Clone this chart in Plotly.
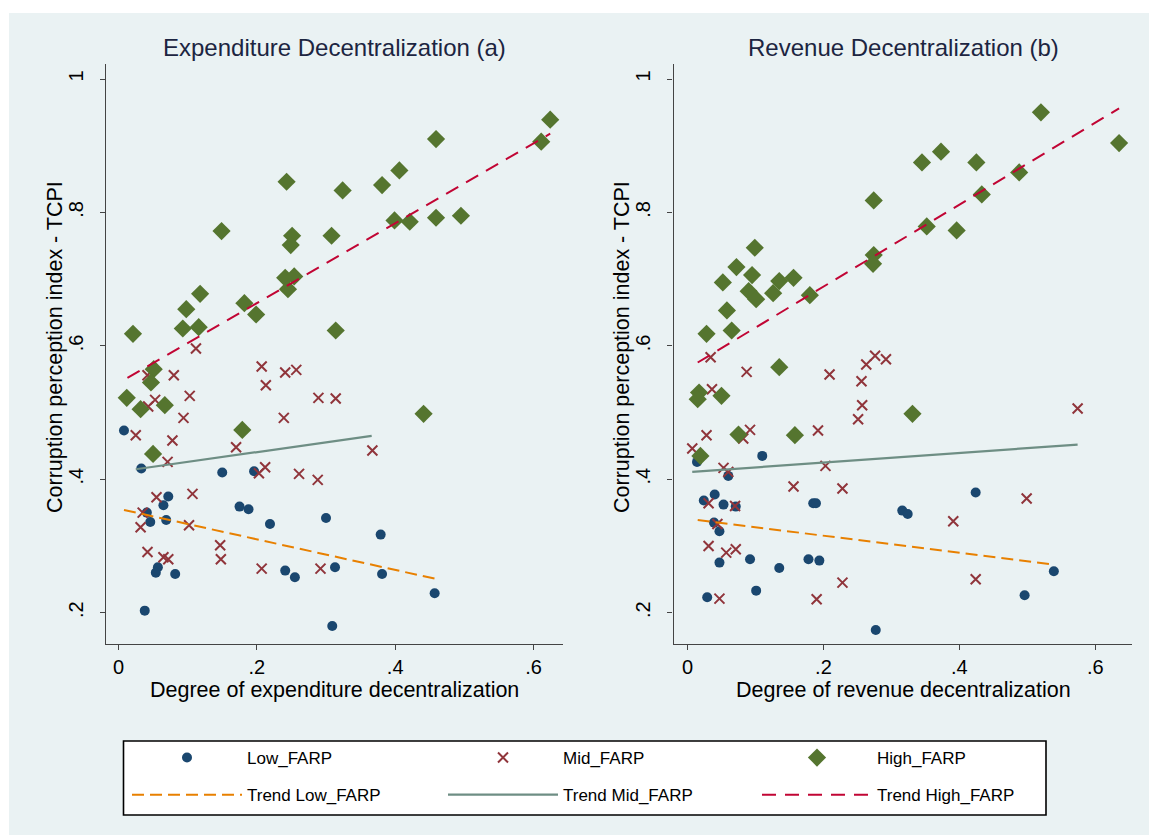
import plotly.graph_objects as go

# ---------------- Data: Expenditure decentralization (a) ----------------
exp_low_x = [0.008, 0.033, 0.150, 0.196, 0.072, 0.065, 0.041, 0.046, 0.069, 0.175, 0.188, 0.219,
             0.300, 0.379, 0.057, 0.054, 0.082, 0.241, 0.255, 0.313, 0.381, 0.457, 0.038, 0.309]
exp_low_y = [0.473, 0.416, 0.410, 0.412, 0.374, 0.361, 0.350, 0.336, 0.339, 0.359, 0.355, 0.333,
             0.342, 0.317, 0.268, 0.260, 0.258, 0.263, 0.253, 0.268, 0.258, 0.229, 0.203, 0.180]

exp_mid_x = [0.112, 0.042, 0.080, 0.207, 0.241, 0.257, 0.213, 0.103, 0.053, 0.043, 0.094, 0.239,
             0.289, 0.314, 0.025, 0.078, 0.170, 0.367, 0.071, 0.203, 0.212, 0.261, 0.288, 0.055,
             0.107, 0.035, 0.032, 0.102, 0.147, 0.148, 0.042, 0.065, 0.072, 0.207, 0.292]
exp_mid_y = [0.596, 0.556, 0.556, 0.569, 0.560, 0.564, 0.541, 0.525, 0.519, 0.509, 0.492, 0.492,
             0.522, 0.521, 0.466, 0.458, 0.448, 0.443, 0.426, 0.409, 0.418, 0.408, 0.399, 0.373,
             0.378, 0.350, 0.328, 0.331, 0.301, 0.280, 0.291, 0.283, 0.280, 0.266, 0.266]

exp_high_x = [0.021, 0.093, 0.116, 0.098, 0.118, 0.149, 0.182, 0.199, 0.243, 0.251, 0.249, 0.241,
              0.254, 0.245, 0.308, 0.314, 0.324, 0.381, 0.406, 0.399, 0.421, 0.459, 0.459, 0.495,
              0.611, 0.624, 0.051, 0.047, 0.012, 0.032, 0.067, 0.179, 0.050, 0.441]
exp_high_y = [0.618, 0.626, 0.628, 0.655, 0.678, 0.772, 0.664, 0.647, 0.846, 0.765, 0.751, 0.702,
              0.704, 0.685, 0.765, 0.623, 0.833, 0.841, 0.863, 0.788, 0.786, 0.910, 0.792, 0.795,
              0.906, 0.939, 0.565, 0.545, 0.522, 0.505, 0.511, 0.474, 0.438, 0.498]

exp_trend_low_x = [0.008, 0.457]
exp_trend_low_y = [0.354, 0.251]
exp_trend_mid_x = [0.025, 0.366]
exp_trend_mid_y = [0.415, 0.465]
exp_trend_high_x = [0.013, 0.624]
exp_trend_high_y = [0.552, 0.918]

# ---------------- Data: Revenue decentralization (b) ----------------
rev_low_x = [0.014, 0.110, 0.060, 0.024, 0.040, 0.053, 0.071, 0.185, 0.189, 0.316, 0.324, 0.424,
             0.039, 0.047, 0.047, 0.092, 0.135, 0.178, 0.194, 0.539, 0.029, 0.101, 0.496, 0.277]
rev_low_y = [0.426, 0.435, 0.405, 0.368, 0.377, 0.362, 0.359, 0.364, 0.364, 0.353, 0.348, 0.380,
             0.335, 0.322, 0.275, 0.280, 0.267, 0.280, 0.278, 0.262, 0.223, 0.233, 0.226, 0.174]

rev_mid_x = [0.034, 0.087, 0.209, 0.256, 0.263, 0.276, 0.292, 0.036, 0.257, 0.251, 0.574, 0.028,
             0.092, 0.082, 0.192, 0.007, 0.053, 0.060, 0.203, 0.156, 0.228, 0.031, 0.070, 0.499,
             0.044, 0.391, 0.031, 0.057, 0.071, 0.228, 0.424, 0.047, 0.190]
rev_mid_y = [0.583, 0.561, 0.557, 0.547, 0.572, 0.585, 0.580, 0.535, 0.511, 0.490, 0.506, 0.466,
             0.474, 0.461, 0.473, 0.446, 0.417, 0.411, 0.420, 0.389, 0.386, 0.364, 0.360, 0.371,
             0.333, 0.337, 0.300, 0.290, 0.295, 0.245, 0.250, 0.221, 0.220]

rev_high_x = [0.028, 0.065, 0.058, 0.052, 0.072, 0.099, 0.095, 0.090, 0.101, 0.126, 0.135, 0.156,
              0.180, 0.274, 0.274, 0.273, 0.345, 0.373, 0.352, 0.396, 0.425, 0.433, 0.488, 0.520,
              0.635, 0.135, 0.017, 0.015, 0.050, 0.331, 0.075, 0.158, 0.019]
rev_high_y = [0.618, 0.623, 0.653, 0.695, 0.718, 0.747, 0.706, 0.682, 0.670, 0.679, 0.697, 0.702,
              0.676, 0.818, 0.736, 0.723, 0.875, 0.891, 0.779, 0.773, 0.875, 0.827, 0.860, 0.950,
              0.904, 0.568, 0.530, 0.520, 0.525, 0.498, 0.467, 0.466, 0.435]

rev_trend_low_x = [0.015, 0.539]
rev_trend_low_y = [0.339, 0.272]
rev_trend_mid_x = [0.007, 0.574]
rev_trend_mid_y = [0.411, 0.452]
rev_trend_high_x = [0.015, 0.635]
rev_trend_high_y = [0.575, 0.956]

names = ["Low_FARP", "Mid_FARP", "High_FARP", "Trend Low_FARP", "Trend Mid_FARP", "Trend High_FARP"]

y_tickvals = [0.2, 0.4, 0.6, 0.8, 1.0]
y_ticktext = [".2", ".4", ".6", ".8", "1"]
x_tickvals = [0, 0.2, 0.4, 0.6]
x_ticktext = ["0", ".2", ".4", ".6"]

# ---------------- Styles ----------------
NAVY = "#1A476F"
MAROON = "#90353B"
GREEN = "#55752F"
ORANGE = "#E88000"
TEAL = "#6E8E84"
CRAN = "#C10534"
BG = "#EAF2F3"
FONT = "Liberation Sans, Arial, sans-serif"
W, H = 1157, 835
OFF = 8  # page body margin in the browser

fig = go.Figure()

panels = [
    (exp_low_x, exp_low_y, exp_mid_x, exp_mid_y, exp_high_x, exp_high_y,
     exp_trend_low_x, exp_trend_low_y, exp_trend_mid_x, exp_trend_mid_y,
     exp_trend_high_x, exp_trend_high_y, "x", "y", True),
    (rev_low_x, rev_low_y, rev_mid_x, rev_mid_y, rev_high_x, rev_high_y,
     rev_trend_low_x, rev_trend_low_y, rev_trend_mid_x, rev_trend_mid_y,
     rev_trend_high_x, rev_trend_high_y, "x2", "y2", False),
]

for (lx, ly, mx, my, hx, hy, tlx, tly, tmx, tmy, thx, thy, xa, ya, show) in panels:
    fig.add_trace(go.Scatter(x=lx, y=ly, mode="markers", name=names[0],
                             legend="legend", legendgroup="g1",
                             marker=dict(symbol="circle", size=10, color=NAVY),
                             xaxis=xa, yaxis=ya, showlegend=show))
    fig.add_trace(go.Scatter(x=mx, y=my, mode="markers", name=names[1],
                             legend="legend2", legendgroup="g2",
                             marker=dict(symbol="x-thin", size=10, color=MAROON,
                                         line=dict(color=MAROON, width=2)),
                             xaxis=xa, yaxis=ya, showlegend=show))
    fig.add_trace(go.Scatter(x=hx, y=hy, mode="markers", name=names[2],
                             legend="legend3", legendgroup="g3",
                             marker=dict(symbol="diamond", size=14, color=GREEN),
                             xaxis=xa, yaxis=ya, showlegend=show))
    fig.add_trace(go.Scatter(x=tlx, y=tly, mode="lines", name=names[3],
                             legend="legend", legendgroup="g4",
                             line=dict(color=ORANGE, width=2, dash="12px,6px"),
                             xaxis=xa, yaxis=ya, showlegend=show))
    fig.add_trace(go.Scatter(x=tmx, y=tmy, mode="lines", name=names[4],
                             legend="legend2", legendgroup="g5",
                             line=dict(color=TEAL, width=2.2),
                             xaxis=xa, yaxis=ya, showlegend=show))
    fig.add_trace(go.Scatter(x=thx, y=thy, mode="lines", name=names[5],
                             legend="legend3", legendgroup="g6",
                             line=dict(color=CRAN, width=2, dash="14px,9px"),
                             xaxis=xa, yaxis=ya, showlegend=show))

def px_x(p):
    return (p - OFF) / W

def px_y(p):
    return 1 - (p - OFF) / H

left_dom = [px_x(106), px_x(563)]
right_dom = [px_x(673.5), px_x(1132)]
y_dom = [px_y(644), px_y(64)]

axis_common = dict(showline=True, linecolor="#444444", linewidth=1.2, ticks="outside",
                   ticklen=5, tickcolor="#444444", tickwidth=1.2, zeroline=False,
                   tickfont=dict(family=FONT, size=20, color="#000000"))

legend_common = dict(orientation="v", xanchor="left", yanchor="top",
                     bgcolor="rgba(0,0,0,0)", borderwidth=0,
                     traceorder="grouped", tracegroupgap=12, itemwidth=110,
                     font=dict(family=FONT, size=17, color="#000000"))

fig.update_layout(
    width=W, height=H,
    margin=dict(l=0, r=0, t=0, b=0, autoexpand=False),
    paper_bgcolor="white",
    plot_bgcolor="white",
    font=dict(family=FONT, color="#000000"),
    xaxis=dict(domain=left_dom, range=[-0.018, 0.6425], tickvals=x_tickvals, ticktext=x_ticktext,
               showgrid=False, anchor="y", **axis_common),
    yaxis=dict(domain=y_dom, range=[0.153, 1.0225], tickvals=y_tickvals, ticktext=y_ticktext,
               showgrid=True, gridcolor=BG, gridwidth=1.5, tickangle=-90, anchor="x",
               ticklabelstandoff=9, **axis_common),
    xaxis2=dict(domain=right_dom, range=[-0.0206, 0.654], tickvals=x_tickvals, ticktext=x_ticktext,
                showgrid=False, anchor="y2", **axis_common),
    yaxis2=dict(domain=y_dom, range=[0.153, 1.0225], tickvals=y_tickvals, ticktext=y_ticktext,
                showgrid=True, gridcolor=BG, gridwidth=1.5, tickangle=-90, anchor="x2",
                ticklabelstandoff=9, **axis_common),
    legend=dict(x=px_x(127), y=px_y(740), **legend_common),
    legend2=dict(x=px_x(443), y=px_y(740), **legend_common),
    legend3=dict(x=px_x(757), y=px_y(740), **legend_common),
    shapes=[
        dict(type="rect", xref="paper", yref="paper", x0=px_x(9), x1=1, y0=0, y1=px_y(13),
             fillcolor=BG, line=dict(width=0), layer="below"),
        dict(type="rect", xref="paper", yref="paper", x0=px_x(123.5), x1=px_x(1046),
             y0=px_y(815), y1=px_y(741), fillcolor="white",
             line=dict(color="#000000", width=1.6), layer="below"),
    ],
)

title_font = dict(family=FONT, size=24, color="#1c2541")
lab_font = dict(family=FONT, size=21.5, color="#000000")
ann = [
    dict(text="Expenditure Decentralization (a)", x=px_x(334.5), y=px_y(47), font=title_font),
    dict(text="Revenue Decentralization (b)", x=px_x(903), y=px_y(47), font=title_font),
    dict(text="Degree of expenditure decentralization", x=px_x(334.5), y=px_y(690), font=lab_font),
    dict(text="Degree of revenue decentralization", x=px_x(903), y=px_y(690), font=lab_font),
    dict(text="Corruption perception index - TCPI", x=px_x(55), y=px_y(347), font=lab_font, textangle=-90),
    dict(text="Corruption perception index - TCPI", x=px_x(622), y=px_y(347), font=lab_font, textangle=-90),
]
for a in ann:
    a.update(xref="paper", yref="paper", showarrow=False, xanchor="center", yanchor="middle")
    fig.add_annotation(**a)

fig.write_html("out.html")
